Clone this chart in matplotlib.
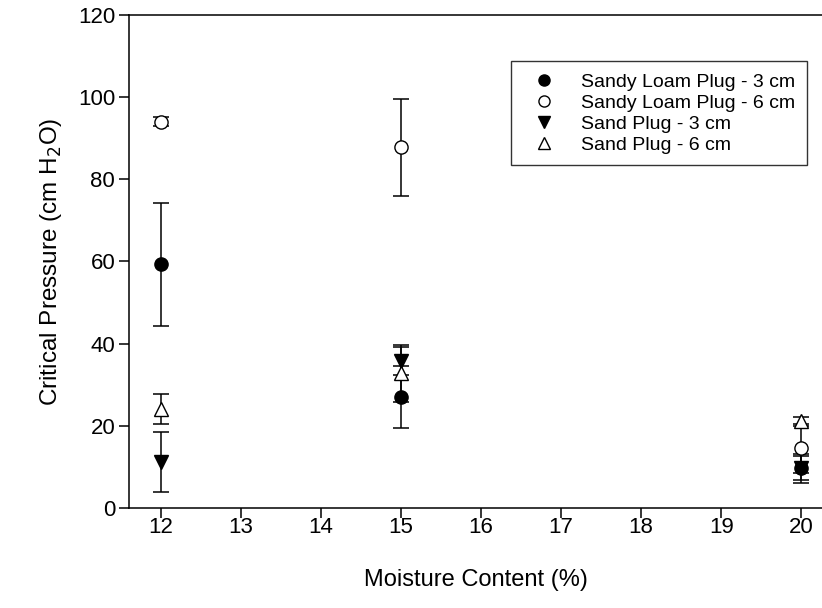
import matplotlib.pyplot as plt
from matplotlib.lines import Line2D

plt.rcParams['font.family'] = ['Liberation Sans', 'DejaVu Sans']

# moisture content levels (%)
moisture = [12, 15, 20]

# critical pressure means and standard errors (cm H2O)
sandy_loam_3 = [59.3, 26.9, 9.7]
sandy_loam_3_err = [15.0, 7.6, 3.0]
sandy_loam_6 = [94.0, 87.8, 14.5]
sandy_loam_6_err = [1.1, 11.8, 6.0]
sand_3 = [11.2, 35.7, 9.6]
sand_3_err = [7.3, 3.4, 3.6]
sand_6 = [24.1, 32.7, 21.0]
sand_6_err = [3.6, 6.9, 1.1]

labels = ['Sandy Loam Plug - 3 cm', 'Sandy Loam Plug - 6 cm',
          'Sand Plug - 3 cm', 'Sand Plug - 6 cm']

fig = plt.figure(figsize=(8.22, 6.08), dpi=100)
ax = fig.add_axes([0.157, 0.165, 0.843, 0.810])

series = [
    (sandy_loam_3, sandy_loam_3_err, 'o', 'black'),
    (sandy_loam_6, sandy_loam_6_err, 'o', 'white'),
    (sand_3, sand_3_err, 'v', 'black'),
    (sand_6, sand_6_err, '^', 'white'),
]

handles = []
for (vals, errs, mk, fc), lab in zip(series, labels):
    ax.errorbar(moisture, vals, yerr=errs, fmt='none', ecolor='black',
                elinewidth=1.1, capsize=5.5, capthick=1.1, zorder=2)
    ax.plot(moisture, vals, linestyle='none', marker=mk, markersize=9.5,
            markerfacecolor=fc, markeredgecolor='black', markeredgewidth=1.0,
            zorder=3)
    handles.append(Line2D([], [], linestyle='none', marker=mk, markersize=8,
                          markerfacecolor=fc, markeredgecolor='black',
                          markeredgewidth=1.0, label=lab))

ax.set_xlim(11.6, 20.26)
ax.set_ylim(0, 120)
ax.set_xticks(range(12, 21))
ax.set_yticks(range(0, 121, 20))
ax.spines['right'].set_visible(False)
for sp in ax.spines.values():
    sp.set_linewidth(1.1)
ax.tick_params(direction='out', length=7, width=1.1, labelsize=16)
ax.tick_params(axis='x', pad=0)
ax.tick_params(axis='y', pad=3)

ax.set_xlabel('Moisture Content (%)', fontsize=17, labelpad=22)
ax.set_ylabel('Critical Pressure (cm H$_2$O)', fontsize=17.5, labelpad=10)

leg = ax.legend(handles=handles, loc='upper right',
                bbox_to_anchor=(0.978, 0.906),
                fontsize=14, frameon=True, fancybox=False, edgecolor='black',
                handlelength=2.2, handletextpad=0.8, borderpad=0.6,
                borderaxespad=0, labelspacing=0.17)
leg.get_frame().set_linewidth(1.0)

fig.savefig('out.png', dpi=100)
